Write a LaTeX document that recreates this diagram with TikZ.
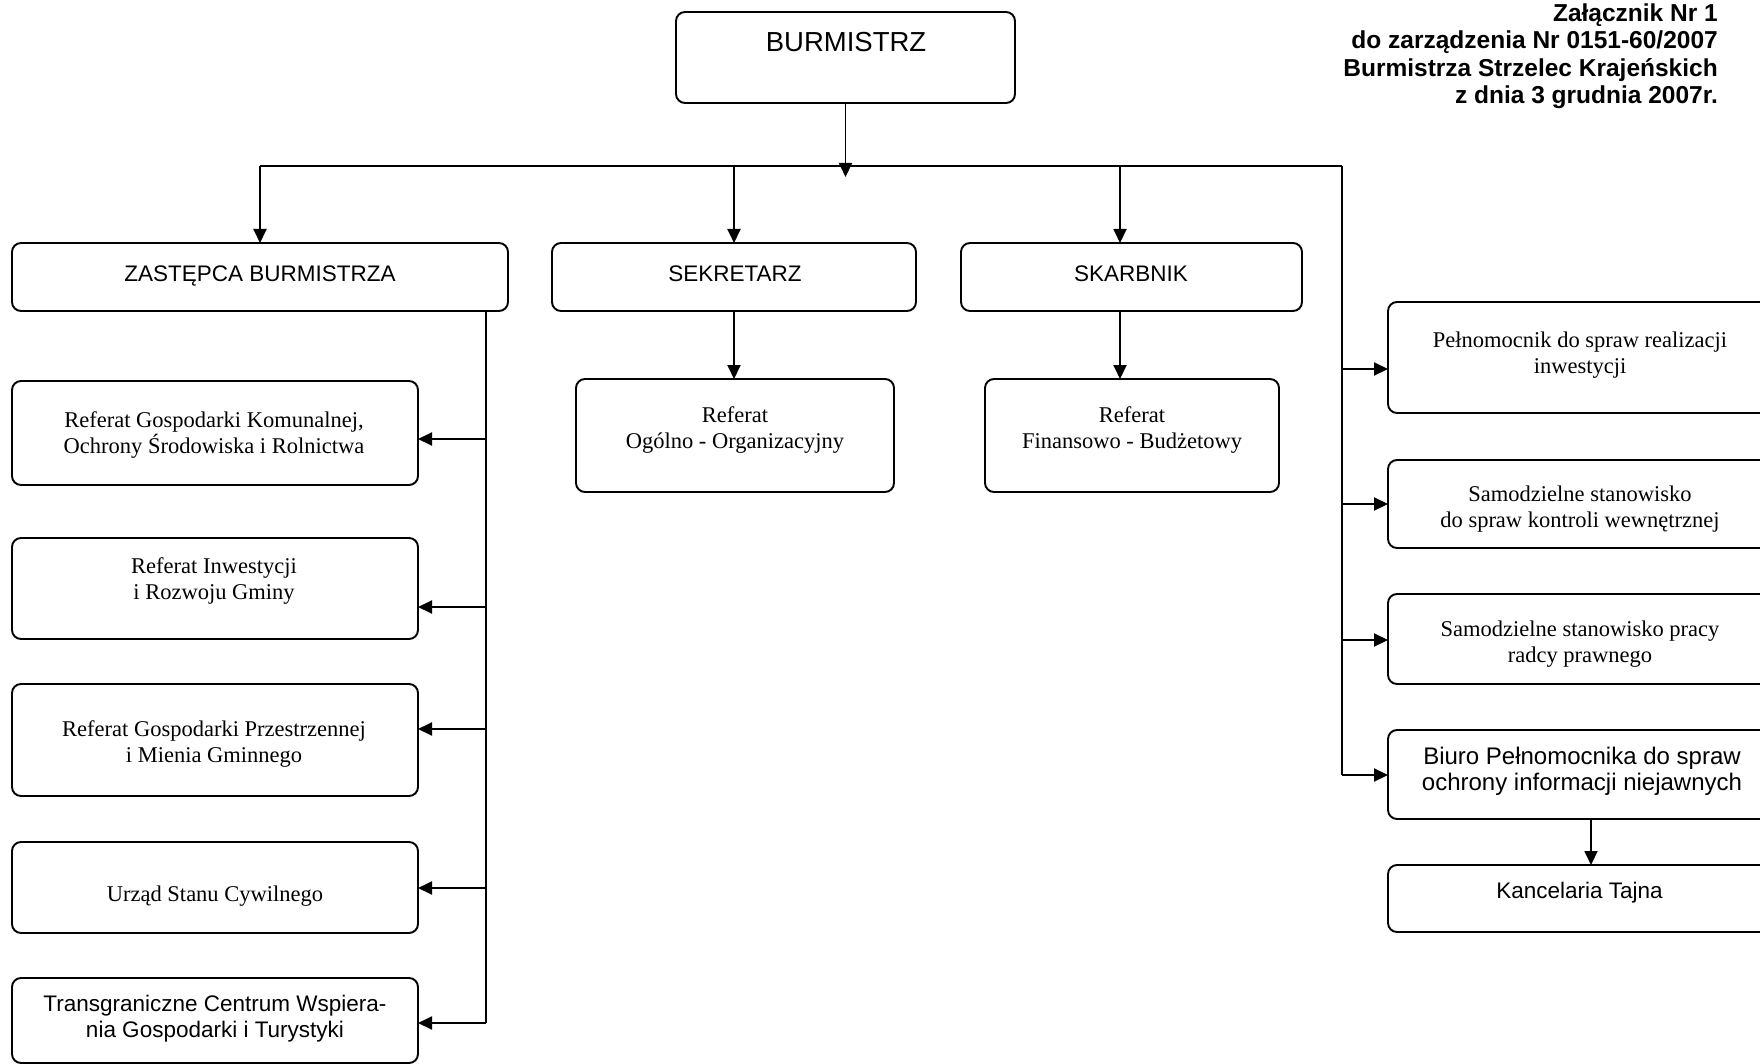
\documentclass[tikz,border=0pt]{standalone}
\usepackage{fontspec}
\setmainfont{Liberation Serif}
\setsansfont{Liberation Sans}
\usetikzlibrary{arrows.meta}
\begin{document}
\begin{tikzpicture}[x=1pt,y=-1pt,
  box/.style={draw, line width=1.9pt, rounded corners=9pt, inner sep=0pt, outer sep=0pt},
  arr/.style={line width=1.9pt, -{Triangle[length=14pt,width=13pt]}},
  ln/.style={line width=1.9pt},
  sftxt/.style={font=\sffamily\fontsize{22.5}{26}\selectfont, anchor=base, inner sep=0pt, align=center},
  rmtxt/.style={font=\rmfamily\fontsize{22.5}{26}\selectfont, anchor=base, inner sep=0pt, align=center},
  hdr/.style={font=\sffamily\bfseries\fontsize{24.5}{27}\selectfont, anchor=base east, inner sep=0pt},
]
\useasboundingbox (0,0) rectangle (1760,1064);
\clip (0,0) rectangle (1760,1064);

% header
\node[hdr] (h1) at (1718,22) {Załącznik Nr 1};
\node[hdr] (h2) at (1718,49) {do zarządzenia Nr 0151-60/2007};
\node[hdr] (h3) at (1718,77) {Burmistrza Strzelec Krajeńskich};
\node[hdr] (h4) at (1718,104) {z dnia 3 grudnia 2007r.};

% boxes
\node[box, minimum width=339pt, minimum height=91pt] (burm) at (845.5,57.5) {};
\node[box, minimum width=496pt, minimum height=68pt] (zast) at (260,277) {};
\node[box, minimum width=364pt, minimum height=68pt] (sekr) at (734,277) {};
\node[box, minimum width=341pt, minimum height=68pt] (skarb) at (1131.5,277) {};
\node[box, minimum width=318pt, minimum height=113pt] (ogol) at (735,435.5) {};
\node[box, minimum width=294pt, minimum height=113pt] (finan) at (1132,435.5) {};
\node[box, minimum width=406pt, minimum height=104pt] (ref1) at (215,433) {};
\node[box, minimum width=406pt, minimum height=101pt] (ref2) at (215,588.5) {};
\node[box, minimum width=406pt, minimum height=112pt] (ref3) at (215,740) {};
\node[box, minimum width=406pt, minimum height=91pt] (usc) at (215,887.5) {};
\node[box, minimum width=406pt, minimum height=85pt] (trans) at (215,1020.5) {};
\node[box, minimum width=384pt, minimum height=111pt] (pel) at (1580,357.5) {};
\node[box, minimum width=384pt, minimum height=88pt] (kontr) at (1580,504) {};
\node[box, minimum width=384pt, minimum height=90pt] (radca) at (1580,639) {};
\node[box, minimum width=384pt, minimum height=89pt] (biuro) at (1580,774.5) {};
\node[box, minimum width=384pt, minimum height=67pt] (kanc) at (1580,898.5) {};

% texts (multi-line nodes are placed at the baseline of their last line)
\node[sftxt, font=\sffamily\fontsize{27.5}{32}\selectfont] (tburm) at (846,52) {BURMISTRZ};
\node[sftxt] (tzast) at (260,282) {ZASTĘPCA BURMISTRZA};
\node[sftxt] (tsekr) at (735,282) {SEKRETARZ};
\node[sftxt] (tskarb) at (1131,282) {SKARBNIK};
\node[rmtxt] (togol) at (735,448) {Referat\\Ogólno - Organizacyjny};
\node[rmtxt] (tfinan) at (1132,448) {Referat\\Finansowo - Budżetowy};
\node[rmtxt] (tref1) at (214,453) {Referat Gospodarki Komunalnej,\\Ochrony Środowiska i Rolnictwa};
\node[rmtxt] (tref2) at (214,599) {Referat Inwestycji\\i Rozwoju Gminy};
\node[rmtxt] (tref3) at (214,762) {Referat Gospodarki Przestrzennej\\i Mienia Gminnego};
\node[rmtxt] (tusc) at (215,901) {Urząd Stanu Cywilnego};
\node[sftxt] (ttrans) at (215,1037) {Transgraniczne Centrum Wspiera-\\nia Gospodarki i Turystyki};
\node[rmtxt] (tpel) at (1580,373) {Pełnomocnik do spraw realizacji\\inwestycji};
\node[rmtxt] (tkontr) at (1580,527) {Samodzielne stanowisko\\do spraw kontroli wewnętrznej};
\node[rmtxt] (tradca) at (1580,662) {Samodzielne stanowisko pracy\\radcy prawnego};
\node[sftxt, font=\sffamily\fontsize{24}{26}\selectfont] (tbiuro) at (1582,790) {Biuro Pełnomocnika do spraw\\ochrony informacji niejawnych};
\node[sftxt] (tkanc) at (1579.5,898) {Kancelaria Tajna};

% bus
\coordinate (busL) at (260,166);
\coordinate (busR) at (1342,166);
\coordinate (busTip) at (845.5,177);
\draw[arr] (burm.south) -- (busTip);
\draw[ln] (busL) -- (busR);
\draw[arr] (zast.north |- busL) -- (zast.north);
\draw[arr] (sekr.north |- busL) -- (sekr.north);
\draw[arr] ([xshift=-11.5pt]skarb.north |- busL) -- ([xshift=-11.5pt]skarb.north);
\draw[arr] (sekr.south) -- (sekr.south |- ogol.north);
\draw[arr] ([xshift=-11.5pt]skarb.south) -- ([xshift=-11.5pt]skarb.south |- finan.north);

% left spine
\coordinate (lsTop) at ([xshift=-22pt]zast.south east);
\coordinate (lsBot) at (lsTop |- 0,1023);
\draw[ln] (lsTop) -- (lsBot);
\draw[arr] (lsTop |- 0,439) -- (ref1.east |- 0,439);
\draw[arr] (lsTop |- 0,607) -- (ref2.east |- 0,607);
\draw[arr] (lsTop |- 0,729) -- (ref3.east |- 0,729);
\draw[arr] (lsTop |- 0,888) -- (usc.east |- 0,888);
\draw[arr] (lsBot) -- (trans.east |- lsBot);

% right spine
\coordinate (rsBot) at (busR |- 0,775);
\draw[ln] (busR) -- (rsBot);
\draw[arr] (busR |- 0,369) -- (pel.west |- 0,369);
\draw[arr] (busR |- 0,504) -- (kontr.west |- 0,504);
\draw[arr] (busR |- 0,640) -- (radca.west |- 0,640);
\draw[arr] (rsBot) -- (biuro.west |- rsBot);
\draw[arr] ([xshift=11pt]biuro.south) -- ([xshift=11pt]kanc.north);
\end{tikzpicture}
\end{document}
